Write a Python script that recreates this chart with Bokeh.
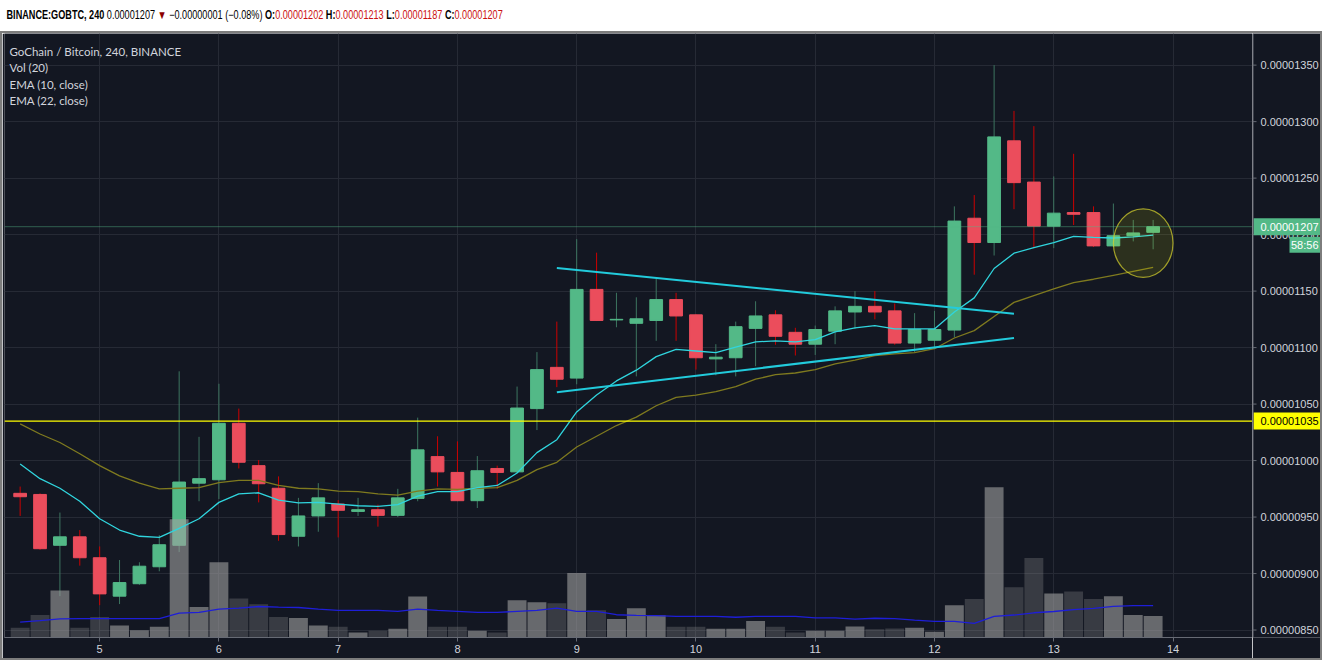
import pandas as pd
from bokeh.plotting import figure
from bokeh.models import (ColumnDataSource, Range1d, FixedTicker, CustomJSTickFormatter,
                          Span, Label, Div, Grid)
from bokeh.layouts import column, row
from bokeh.core.properties import value
from bokeh.embed import file_html
from bokeh.resources import INLINE

# ---------------- data (prices in satoshi = 1e-8 BTC) ----------------
first_candle = "2019-07-04 08:00"
candle_hours = 4

opens = [971, 970, 925, 932.5, 914, 880, 891, 906, 925, 980,
         983, 1033, 995.5, 975.5, 933, 951, 961.5, 955, 956.5, 951.5,
         966.5, 1003.5, 989.5, 964.5, 993, 990, 1046, 1082.5, 1073, 1151.5,
         1124.5, 1121.5, 1124, 1142.5, 1129, 1090, 1091, 1117, 1129, 1113.5,
         1103, 1114.5, 1131.5, 1136.5, 1132.5, 1104, 1106.5, 1115.5, 1214.5, 1193,
         1283, 1246.5, 1207.5, 1219.5, 1219.5, 1190, 1199, 1202]
highs = [977, 971, 954, 938.5, 924, 912, 910, 934, 1079, 1021,
         1068, 1046, 1000.5, 986, 967, 980, 965, 967, 961, 975,
         1038, 1021.5, 1017, 1004, 995.5, 1065.5, 1096, 1123, 1196, 1184,
         1148.5, 1144.5, 1161, 1148.5, 1129.5, 1103, 1123, 1141, 1133, 1117.5,
         1119.5, 1136.5, 1150, 1150, 1139, 1130.5, 1132.5, 1225, 1235, 1350,
         1309.5, 1296, 1251.5, 1271.5, 1225, 1227.5, 1213, 1213]
lows = [951, 921, 880, 907, 872, 873, 890, 902, 919, 964,
        966, 993, 963, 929, 924, 937, 932, 951, 941.5, 950,
        964, 977, 964, 958, 975, 989, 1027, 1065, 1067.5, 1123.5,
        1118, 1074.5, 1106, 1106, 1080.5, 1075.5, 1074.5, 1083.5, 1102.5, 1093,
        1093.5, 1103, 1116.5, 1125, 1102.5, 1096, 1099, 1109, 1164.5, 1181.5,
        1222.5, 1188, 1188, 1208.5, 1189, 1189, 1194, 1187]
closes = [968, 922, 932.5, 914, 882, 892, 906.5, 925.5, 981, 984,
          1033, 998.5, 979.5, 934.5, 951, 967, 956, 956.5, 951.5, 967,
          1009.5, 990, 964.5, 991, 989.5, 1046.5, 1080.5, 1072, 1151.5, 1124,
          1125, 1125.5, 1142.5, 1128, 1091, 1091.5, 1118.5, 1128, 1110, 1103,
          1116, 1132.5, 1136.5, 1131.5, 1104, 1116, 1116, 1212, 1193, 1286.5,
          1246, 1207.5, 1219, 1218, 1190, 1199, 1201.5, 1207]
volumes = [10, 23, 48, 10, 21, 12.3, 7.3, 11, 121, 31.3,
           77, 40, 34, 21, 20, 12.3, 11, 5, 7, 9,
           42, 11, 11, 7, 5, 38, 36, 35, 66, 28,
           19, 30, 22.7, 11, 11, 9, 9, 17, 11, 5,
           7, 7, 11.3, 8.5, 9.3, 10, 6, 33, 39.4, 153.7,
           51.5, 81.3, 45, 47, 39.4, 42.2, 23, 22.1]
vol_ma20 = [15.7, 17.3, 19, 19.3, 19.3, 19.3, 19.3, 19.3, 25, 25.7,
            29, 30, 31.7, 31, 30.7, 29, 27.7, 27.7, 27.7, 26.7,
            29, 27.7, 26.7, 25.7, 25.7, 26.7, 27.7, 30, 26.7, 26.7,
            23.3, 22.7, 22.3, 21.7, 21.7, 21.7, 20.7, 21.7, 21.7, 21.7,
            20, 20, 18.9, 19.7, 19.3, 17.7, 16.5, 16.5, 14.5, 21.7,
            23, 25.3, 26.6, 28.6, 29.8, 31.8, 32.6, 32.6]
ema10 = [997, 984, 975.5, 964, 948.5, 938.5, 933, 932, 940, 948.5,
         963, 970.5, 971.5, 965, 962.5, 963, 961.5, 960, 959.5, 961,
         968.5, 972.5, 972.5, 976, 978, 989, 1007, 1018.5, 1043, 1058,
         1070.5, 1080, 1092, 1098.5, 1097, 1095.5, 1100.5, 1105, 1106, 1105,
         1107, 1114, 1117.5, 1119.5, 1116.5, 1116.5, 1116.5, 1131.5, 1144, 1170,
         1183.5, 1188.5, 1193, 1198.5, 1197.5, 1197, 1198, 1199.5]
ema22 = [1032.5, 1023.5, 1016, 1006, 995.5, 986.5, 980, 975, 975.5, 976,
         980.5, 982.5, 982.5, 978, 975.5, 975, 973, 972.5, 970.5, 969.5,
         973, 975, 974.5, 975.5, 976, 982.5, 992, 998.5, 1012, 1021.5,
         1031, 1038.5, 1048.5, 1056, 1058, 1061, 1065.5, 1072, 1076, 1077.5,
         1080.5, 1085.5, 1089, 1093, 1094.5, 1095.5, 1099, 1108.5, 1115, 1127.5,
         1140, 1146, 1152, 1157.5, 1160.5, 1164, 1167.5, 1171]

day_ticks = list(range(5, 15))
price_ticks = list(range(850, 1351, 50))
support_level = 1035
last_price = closes[-1]
countdown = "58:56"
upper_trend_idx = [27, 50]
upper_trend_price = [1170.5, 1130.0]
lower_trend_idx = [27, 50]
lower_trend_price = [1060.5, 1108.5]
circle_idx = 56.5
circle_price = 1192.5
circle_half_candles = 1.5
circle_half_price = 30.3
legend_lines = ["GoChain / Bitcoin, 240, BINANCE", "Vol (20)", "EMA (10, close)", "EMA (22, close)"]
header_symbol = "BINANCE:GOBTC, 240"
header_change = "\u22120.00000001 (\u22120.08%)"

# ---------------- layout constants ----------------
W, H = 1326, 654
HEADER_H = 21
BORDER = 2
AXIS_W = 70                        # width of the price-scale panel
MAIN_W = W - 2 * BORDER - AXIS_W   # main figure width (incl. left border space)
FIG_H = H - HEADER_H - 2 * BORDER
LEFT, BOTTOM, TOP = 2, 25, 0
FW = MAIN_W - LEFT
FH = FIG_H - TOP - BOTTOM
Y0, Y1 = 843.4, 1378.0

BG = "#131722"
GRID = "#262a35"
AXC = "#676b75"
TXT = "#d1d4dc"
UP, DOWN = "#53b987", "#eb4d5c"
UP_WICK, DOWN_WICK = "#3d7560", "#cc0000"
BORDER_CSS = f"{BORDER}px solid #7d7d7d"

def sat(v):
    return f"{v / 1e8:.8f}"

# ---------------- sources ----------------
step = pd.Timedelta(hours=candle_hours)
times = pd.date_range(first_candle, periods=len(opens), freq=f"{candle_hours}h")
step_ms = step.total_seconds() * 1000.0
up = [c >= o for o, c in zip(opens, closes)]
src = ColumnDataSource(dict(
    t=times, o=opens, h=highs, l=lows, c=closes,
    top=[max(o, c) for o, c in zip(opens, closes)],
    bottom=[min(o, c) for o, c in zip(opens, closes)],
    color=[UP if u else DOWN for u in up],
    wick=[UP_WICK if u else DOWN_WICK for u in up],
    vol=volumes,
    valpha=[0.6 if u else 0.27 for u in up],
))

day0 = times[0].normalize()
x_start = day0 + pd.Timedelta(hours=4.85)
x_end = day0 + pd.Timedelta(days=10, hours=16.4)

# ---------------- main chart ----------------
p = figure(width=MAIN_W, height=FIG_H, x_axis_type="datetime",
           x_range=Range1d(x_start, x_end), y_range=Range1d(Y0, Y1),
           y_axis_location=None, output_backend="svg", toolbar_location=None,
           min_border_left=LEFT, min_border_right=0, min_border_top=TOP,
           min_border_bottom=BOTTOM, background_fill_color=BG, border_fill_color=BG,
           outline_line_color=None,
           styles={"border-left": BORDER_CSS, "border-top": BORDER_CSS,
                   "border-bottom": BORDER_CSS})
p.extra_y_ranges = {"vol": Range1d(0, 618)}
p.ygrid.grid_line_color = None
p.add_layout(Grid(dimension=1, ticker=FixedTicker(ticks=price_ticks), grid_line_color=GRID))

xa = p.xaxis[0]
xa.ticker = FixedTicker(ticks=[(day0 + pd.Timedelta(days=d - day0.day)).value / 1e6 for d in day_ticks])
xa.formatter = CustomJSTickFormatter(code="return String(new Date(tick).getUTCDate());")
xa.axis_line_color = AXC
xa.major_tick_line_color = AXC
xa.minor_tick_line_color = None
xa.major_tick_out = 4
xa.major_tick_in = 0
xa.major_label_text_color = TXT
xa.major_label_text_font = "Liberation Sans"
xa.major_label_text_font_size = "11px"
xa.major_label_standoff = 3
p.xgrid.grid_line_color = GRID

# candles
p.segment(x0="t", y0="h", x1="t", y1="l", source=src, line_color="wick", line_width=1)
p.vbar(x="t", width=0.64 * step_ms, top="top", bottom="bottom", source=src,
       fill_color="color", line_color="color", line_width=1)

# volume
p.vbar(x="t", width=0.95 * step_ms, top="vol", bottom=0, source=src, y_range_name="vol",
       fill_color="#a0a0a0", fill_alpha="valpha", line_color=None)
p.line(times, vol_ma20, y_range_name="vol", line_color="#1e1ed8", line_width=1.3)

# EMAs
p.line(times, ema22, line_color="#7f7a1f", line_width=1.3)
p.line(times, ema10, line_color="#30d5de", line_width=1.3)

# trend lines
p.line([times[i] for i in upper_trend_idx], upper_trend_price, line_color="#22cbdc", line_width=2)
p.line([times[i] for i in lower_trend_idx], lower_trend_price, line_color="#22cbdc", line_width=2)

# horizontal levels
p.add_layout(Span(location=support_level, dimension="width", line_color="#ffff00", line_width=1.3))
p.add_layout(Span(location=last_price, dimension="width", line_color=UP, line_alpha=0.45, line_width=1))

# highlight circle
cx = times[0] + step * circle_idx
p.ellipse(x=[cx], y=[circle_price], width=[2 * circle_half_candles * step_ms],
          height=[2 * circle_half_price], fill_color="#ffff00", fill_alpha=0.11,
          line_color="#d8d42c", line_alpha=0.7, line_width=1.2)

# legend texts
for k, txt in enumerate(legend_lines):
    p.add_layout(Label(x=5, y=FH - 17.6 - 16.6 * k, x_units="screen", y_units="screen",
                       text=txt, text_color=TXT, text_font_size="11.5px",
                       text_font="Lato", text_baseline="middle"))

# ---------------- price scale panel ----------------
px_per_price = FH / (Y1 - Y0)
ax = figure(width=AXIS_W, height=FIG_H, x_range=Range1d(0, AXIS_W), y_range=p.y_range,
            x_axis_location=None, y_axis_location=None, output_backend="svg",
            toolbar_location=None, min_border_left=0, min_border_right=0,
            min_border_top=TOP, min_border_bottom=BOTTOM,
            background_fill_color=BG, border_fill_color=BG, outline_line_color=None,
            styles={"border-right": BORDER_CSS, "border-top": BORDER_CSS,
                    "border-bottom": BORDER_CSS})
ax.xgrid.grid_line_color = None
ax.ygrid.grid_line_color = None
ax.add_layout(Span(location=0.5, dimension="height", line_color=AXC, line_width=1))
tick_src = ColumnDataSource(dict(y=price_ticks, label=[sat(v) for v in price_ticks]))
ax.segment(x0=0, x1=4, y0="y", y1="y", source=tick_src, line_color=AXC, line_width=1)
ax.text(x=8, y="y", text="label", source=tick_src, text_color=TXT,
        text_font=value("Liberation Sans"), text_font_size=value("11px"), text_baseline="middle")

# last price tag
ax.rect(x=AXIS_W / 2 + 0.5, y=last_price, width=AXIS_W - 1, height=17,
        height_units="screen", fill_color=UP, line_color=None)
ax.text(x=8, y=last_price, text=[sat(last_price)], text_color="#ffffff",
        text_font=value("Liberation Sans"), text_font_size=value("11px"), text_baseline="middle")
# countdown tag
cd_y = last_price - 18 / px_per_price
ax.rect(x=(37 + AXIS_W) / 2, y=cd_y, width=AXIS_W - 37, height=16,
        height_units="screen", fill_color=UP, line_color=None)
ax.text(x=AXIS_W - 4, y=cd_y, text=[countdown], text_color="#ffffff", text_align="right",
        text_font=value("Liberation Sans"), text_font_size=value("11px"), text_baseline="middle")
# support level tag
ax.rect(x=AXIS_W / 2 + 0.5, y=support_level, width=AXIS_W - 1, height=17,
        height_units="screen", fill_color="#ffff00", line_color=None)
ax.text(x=8, y=support_level, text=[sat(support_level)], text_color="#000000",
        text_font=value("Liberation Sans"), text_font_size=value("11px"), text_baseline="middle")

# ---------------- header ----------------
red = "#cc1010"
header_html = (
    '<div style="font-family:\'Liberation Sans\',sans-serif;font-size:12px;line-height:21px;'
    'white-space:nowrap;color:#000;padding-left:2px;transform:scaleX(0.76);'
    'transform-origin:left center">'
    f'<b>{header_symbol}</b> {sat(last_price)} <span style="color:#8b0000">&#9660;</span> '
    f'{header_change} '
    f'<b>O:</b><span style="color:{red}">{sat(opens[-1])}</span> '
    f'<b>H:</b><span style="color:{red}">{sat(highs[-1])}</span> '
    f'<b>L:</b><span style="color:{red}">{sat(lows[-1])}</span> '
    f'<b>C:</b><span style="color:{red}">{sat(closes[-1])}</span></div>'
)
header = Div(text=header_html, width=W, height=HEADER_H)

layout = column(header, row(p, ax, spacing=0), spacing=0)
open("out.html", "w").write(file_html(layout, INLINE))
